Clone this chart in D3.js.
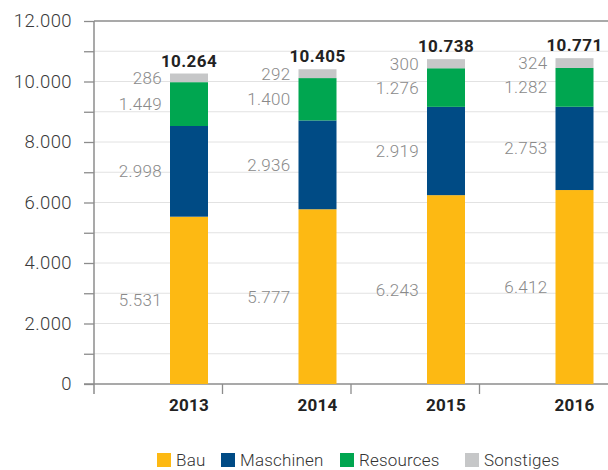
<!DOCTYPE html>
<html>
<head>
<meta charset="utf-8">
<script src="https://cdn.jsdelivr.net/npm/d3@7"></script>
<style>
  body { margin: 0; background: #fff; }
  svg text { font-family: "Helvetica Neue", Roboto, "Liberation Sans", Arial, sans-serif; }
</style>
</head>
<body>
<div id="chart"></div>
<script>
//Datos
const years = ['2013', '2014', '2015', '2016'];
const keys = ['bau', 'maschinen', 'resources', 'sonstiges'];
const legendLabels = ['Bau', 'Maschinen', 'Resources', 'Sonstiges'];
const bau = [5531, 5777, 6243, 6412];
const maschinen = [2998, 2936, 2919, 2753];
const resources = [1449, 1400, 1276, 1282];
const sonstiges = [286, 292, 300, 324];
const totals = [10264, 10405, 10738, 10771];
const yTicks = [0, 2000, 4000, 6000, 8000, 10000, 12000];

//Colores
const colors = ['#FDB913', '#004B85', '#00A650', '#C6C7C8'];

let data = years.map((y, i) => ({
  year: y, bau: bau[i], maschinen: maschinen[i], resources: resources[i], sonstiges: sonstiges[i]
}));

const de = d3.formatLocale({ decimal: ',', thousands: '.', grouping: [3], currency: ['', ' €'] });
const fmt = de.format(',d');

let width = 608, height = 470;
let svg = d3.select('#chart').append('svg')
  .attr('width', width)
  .attr('height', height);

let x = d3.scaleBand()
  .domain(years)
  .range([94, 608]);

let y = d3.scaleLinear()
  .domain([0, 12000])
  .range([384, 21]);

let color = d3.scaleOrdinal().domain(keys).range(colors);

//Rejilla
svg.append('g')
  .selectAll('line')
  .data(d3.range(1000, 12000, 1000))
  .enter().append('line')
  .attr('x1', 94).attr('x2', 608)
  .attr('y1', d => y(d)).attr('y2', d => y(d))
  .attr('stroke', '#e2e2e2')
  .attr('stroke-width', 1);

//Eje Y
let yAxis = svg.append('g')
  .attr('transform', 'translate(94,0)')
  .call(d3.axisLeft(y).tickValues(d3.range(0, 13000, 1000)).tickSize(10).tickFormat(''));
yAxis.select('.domain').remove();
yAxis.selectAll('.tick line').attr('stroke', '#8c8c8c').attr('stroke-width', 1.3);

svg.append('g')
  .selectAll('text')
  .data(yTicks)
  .enter().append('text')
  .attr('x', 72)
  .attr('y', d => y(d))
  .attr('dy', '0.35em')
  .attr('text-anchor', 'end')
  .attr('font-size', 18.5)
  .attr('font-weight', 300)
  .attr('letter-spacing', 0.4)
  .attr('fill', '#3a3a3a')
  .text(d => fmt(d));

//Línea superior
svg.append('line')
  .attr('x1', 94).attr('x2', 608)
  .attr('y1', y(12000)).attr('y2', y(12000))
  .attr('stroke', '#8c8c8c').attr('stroke-width', 1.3);

//Eje X
let xAxis = svg.append('g')
  .attr('transform', 'translate(0,' + y(0) + ')')
  .call(d3.axisBottom(x).tickValues([]).tickSizeOuter(0));
xAxis.select('.domain').attr('stroke', '#8c8c8c').attr('stroke-width', 1.5)
  .attr('d', 'M84,0H608');

svg.append('g')
  .selectAll('line')
  .data(years.slice(1))
  .enter().append('line')
  .attr('x1', d => x(d)).attr('x2', d => x(d))
  .attr('y1', y(0)).attr('y2', y(0) + 10)
  .attr('stroke', '#8c8c8c').attr('stroke-width', 1.3);

svg.append('line')
  .attr('x1', 94).attr('x2', 94)
  .attr('y1', y(12000)).attr('y2', y(0) + 10)
  .attr('stroke', '#8c8c8c').attr('stroke-width', 1.5);

//Barras
const barOffset = 76, barWidth = 38;
let stacked = d3.stack().keys(keys)(data);

let series = svg.append('g').selectAll('g')
  .data(stacked)
  .enter().append('g')
  .attr('fill', d => color(d.key));

series.selectAll('rect')
  .data(d => d)
  .enter().append('rect')
  .attr('x', d => x(d.data.year) + barOffset)
  .attr('y', d => y(d[1]))
  .attr('width', barWidth)
  .attr('height', d => y(d[0]) - y(d[1]));

//Etiquetas de valores
series.selectAll('text')
  .data(d => d.map(v => Object.assign({ key: d.key }, v)))
  .enter().append('text')
  .attr('x', d => x(d.data.year) + barOffset - 8)
  .attr('y', d => y((d[0] + d[1]) / 2))
  .attr('dy', '0.35em')
  .attr('text-anchor', 'end')
  .attr('font-size', 17)
  .attr('font-weight', 300)
  .attr('letter-spacing', 0.3)
  .attr('fill', '#8a8a8a')
  .text(d => fmt(d.data[d.key]));

//Totales
svg.append('g')
  .selectAll('text')
  .data(years)
  .enter().append('text')
  .attr('x', (d, i) => x(d) + barOffset + barWidth / 2)
  .attr('y', (d, i) => y(totals[i]) - 7)
  .attr('text-anchor', 'middle')
  .attr('font-size', 17)
  .attr('font-weight', 700)
  .attr('letter-spacing', 0.4)
  .attr('fill', '#222')
  .text((d, i) => fmt(totals[i]));

//Etiquetas años
svg.append('g')
  .selectAll('text')
  .data(years)
  .enter().append('text')
  .attr('x', d => x(d) + barOffset + barWidth / 2)
  .attr('y', 411)
  .attr('text-anchor', 'middle')
  .attr('font-size', 17)
  .attr('font-weight', 700)
  .attr('letter-spacing', 0.3)
  .attr('fill', '#222')
  .text(d => d);

//Leyenda
const legendX = [157, 221, 340, 465];
let legend = svg.append('g').selectAll('g')
  .data(keys)
  .enter().append('g')
  .attr('transform', (d, i) => 'translate(' + legendX[i] + ',453)');

legend.append('rect')
  .attr('width', 14).attr('height', 14)
  .attr('fill', d => color(d));

legend.append('text')
  .attr('x', 19)
  .attr('y', 7)
  .attr('dy', '0.35em')
  .attr('font-size', 17)
  .attr('font-weight', 300)
  .attr('letter-spacing', 0.2)
  .attr('fill', '#333')
  .text((d, i) => legendLabels[i]);
</script>
</body>
</html>
